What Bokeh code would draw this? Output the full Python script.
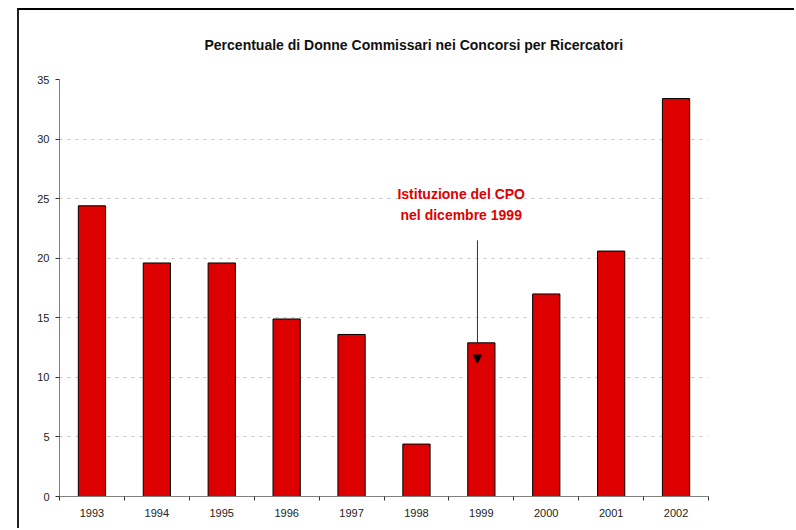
from bokeh.plotting import figure
from bokeh.models import Range1d, FixedTicker, Arrow, NormalHead, Label
from bokeh.embed import file_html
from bokeh.resources import INLINE

years = [1993, 1994, 1995, 1996, 1997, 1998, 1999, 2000, 2001, 2002]
values = [24.4, 19.6, 19.6, 14.9, 13.6, 4.4, 12.9, 17.0, 20.6, 33.4]
y_ticks = [0, 5, 10, 15, 20, 25, 30, 35]
boundaries = [y - 0.5 for y in years] + [years[-1] + 0.5]

title_text = "Percentuale di Donne Commissari nei Concorsi per Ricercatori"
note_lines = ["Istituzione del CPO", "nel dicembre 1999"]

p = figure(width=777, height=520, output_backend="svg", toolbar_location=None,
           x_range=Range1d(1992.5, 2002.5), y_range=Range1d(0, 35),
           min_border_left=40, min_border_right=88, min_border_top=69, min_border_bottom=34)
p.styles = {"border-top": "2px solid #000", "border-left": "2px solid #222"}
p.margin = (8, 0, 0, 17)

p.title.text = title_text
p.title.text_font = "Liberation Sans"
p.title.text_font_size = "14px"
p.title.text_font_style = "bold"
p.title.text_color = "#111111"
p.title.align = "left"
p.title.offset = 145
p.title.vertical_align = "top"
p.title.standoff = 50

p.outline_line_color = None
p.xgrid.grid_line_color = None
p.ygrid.grid_line_color = "#c8c8c8"
p.ygrid.grid_line_dash = "3 5"
p.ygrid.ticker = FixedTicker(ticks=y_ticks)

p.vbar(x=years, top=values, width=0.42, fill_color="#DD0000", line_color="#000000", line_width=1)

p.xaxis.ticker = FixedTicker(ticks=years, minor_ticks=boundaries)
p.xaxis.major_tick_out = 0
p.xaxis.major_tick_in = 0
p.xaxis.minor_tick_out = 4
p.xaxis.minor_tick_in = 0
p.xaxis.minor_tick_line_color = "#333333"
p.yaxis.ticker = FixedTicker(ticks=y_ticks)
p.yaxis.major_tick_out = 4
p.yaxis.major_tick_in = 0
p.yaxis.minor_tick_line_color = None
for ax in (p.xaxis, p.yaxis):
    ax.axis_line_color = "#808080"
    ax.major_tick_line_color = "#333333"
    ax.major_label_text_font = "Liberation Sans"
    ax.major_label_text_font_size = "11px"
    ax.major_label_text_color = "#222222"
p.xaxis.major_label_standoff = 8
p.yaxis.major_label_standoff = 6

note_x = 1998.69
for txt, ny in zip(note_lines, [25.4, 23.6]):
    p.add_layout(Label(x=note_x, y=ny, text=txt, text_align="center", text_baseline="middle",
                       text_font="Liberation Sans", text_font_size="14px", text_font_style="bold",
                       text_color="#E00000"))

p.add_layout(Arrow(x_start=1998.94, y_start=21.5, x_end=1998.94, y_end=11.2,
                   line_color="#333333", line_width=1,
                   end=NormalHead(size=8, fill_color="#000000", line_color="#000000")))

open("out.html", "w").write(file_html(p, INLINE))
